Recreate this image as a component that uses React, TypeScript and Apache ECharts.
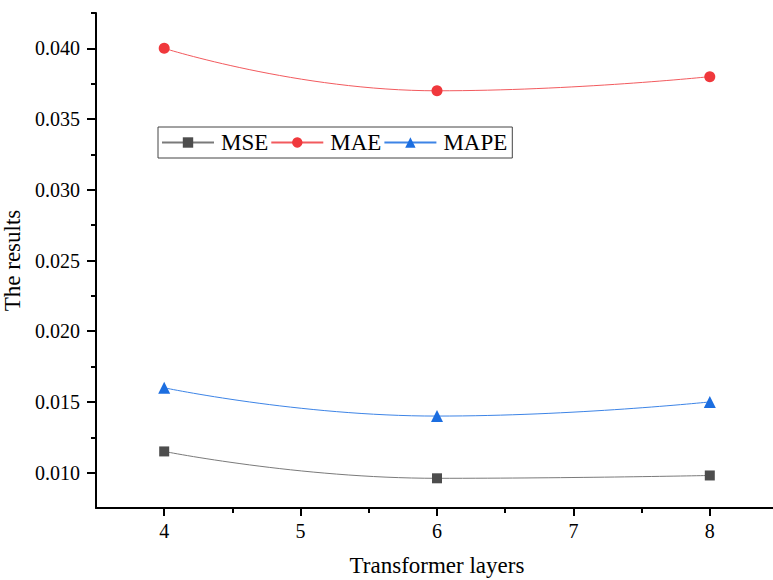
import React, { useEffect, useRef } from "react";
import * as echarts from "echarts";

const layers = [4, 6, 8];
const mse = [0.0115, 0.0096, 0.0098];
const mae = [0.04, 0.037, 0.038];
const mape = [0.016, 0.014, 0.015];
const yMajor = [0.01, 0.015, 0.02, 0.025, 0.03, 0.035, 0.04];
const yMinor = [0.0125, 0.0175, 0.0225, 0.0275, 0.0325, 0.0375, 0.0425];
const xMajor = [4, 5, 6, 7, 8];
const xMinor = [4.5, 5.5, 6.5, 7.5];

const FONT = "Liberation Serif";

export default function App() {
  const ref = useRef<HTMLDivElement>(null);
  useEffect(() => {
    if (!ref.current) return;
    const chart = echarts.init(ref.current, undefined, { renderer: "svg" });
    const pair = (vals: number[]) => layers.map((x, i) => [x, vals[i]]);
    const axisLine = { show: true, lineStyle: { color: "#000", width: 2 } };
    const near = (v: number, list: number[]) => list.some((m) => Math.abs(m - v) < 1e-7);
    const rich = { t: { fontFamily: FONT, fontSize: 20, color: "#000" } };
    chart.setOption({
      animation: false,
      backgroundColor: "#fff",
      textStyle: { fontFamily: FONT, color: "#000" },
      grid: { left: 96, top: 13, width: 682, height: 495, containLabel: false, outerBoundsMode: "none" },
      legend: {
        left: 158,
        top: 127,
        orient: "horizontal",
        itemWidth: 52,
        itemHeight: 13,
        itemGap: 2,
        padding: [4, 5, 4, 3],
        borderColor: "#444",
        borderWidth: 1,
        borderRadius: 0,
        textStyle: { fontFamily: FONT, fontSize: 23, color: "#000", padding: [0, 0, 0, 2] },
        data: ["MSE", "MAE", "MAPE"],
      },
      xAxis: [
        {
          type: "value",
          min: 3.5,
          max: 8.5,
          interval: 0.5,
          position: "bottom",
          name: "Transformer layers",
          nameLocation: "middle",
          nameGap: 46,
          nameTextStyle: { fontFamily: FONT, fontSize: 23, color: "#000" },
          axisLine,
          axisTick: { show: true, customValues: xMajor, length: 8, lineStyle: { color: "#000", width: 2 } },
          axisLabel: {
            fontFamily: FONT,
            fontSize: 20,
            color: "#000",
            margin: 13,
            rich,
            formatter: (v: number) => (near(v, xMajor) ? "{t|" + String(v) + "}" : ""),
          },
          splitLine: { show: false },
        },
        {
          type: "value",
          min: 3.5,
          max: 8.5,
          position: "bottom",
          axisLine: { show: false },
          axisTick: { show: true, customValues: xMinor, length: 5, lineStyle: { color: "#000", width: 2 } },
          axisLabel: { show: false },
          splitLine: { show: false },
        },
      ],
      yAxis: [
        {
          type: "value",
          min: 0.0075,
          max: 0.0425,
          interval: 0.0025,
          position: "left",
          name: "The results",
          nameLocation: "middle",
          nameGap: 62,
          nameTextStyle: { fontFamily: FONT, fontSize: 23, color: "#000" },
          axisLine,
          axisTick: { show: true, customValues: yMajor, length: 9, lineStyle: { color: "#000", width: 2 } },
          axisLabel: {
            fontFamily: FONT,
            fontSize: 20,
            color: "#000",
            margin: 16,
            rich,
            formatter: (v: number) => (near(v, yMajor) ? "{t|" + v.toFixed(3) + "}" : ""),
          },
          splitLine: { show: false },
        },
        {
          type: "value",
          min: 0.0075,
          max: 0.0425,
          position: "left",
          axisLine: { show: false },
          axisTick: { show: true, customValues: yMinor, length: 5, lineStyle: { color: "#000", width: 2 } },
          axisLabel: { show: false },
          splitLine: { show: false },
        },
      ],
      series: [
        {
          name: "MSE",
          type: "line",
          data: pair(mse),
          smooth: 0.5,
          symbol: "rect",
          symbolSize: 10,
          itemStyle: { color: "#4d4d4d" },
          lineStyle: { color: "#7a7a7a", width: 1 },
        },
        {
          name: "MAE",
          type: "line",
          data: pair(mae),
          smooth: 0.5,
          symbol: "circle",
          symbolSize: 11,
          itemStyle: { color: "#f0383c" },
          lineStyle: { color: "#f25a5e", width: 1 },
        },
        {
          name: "MAPE",
          type: "line",
          data: pair(mape),
          smooth: 0.5,
          symbol: "triangle",
          symbolSize: 12,
          itemStyle: { color: "#1c6ee0" },
          lineStyle: { color: "#3d84e6", width: 1 },
        },
      ],
    });
    return () => chart.dispose();
  }, []);
  return <div ref={ref} style={{ width: 773, height: 580, position: "absolute", left: 0, top: 0 }} />;
}
